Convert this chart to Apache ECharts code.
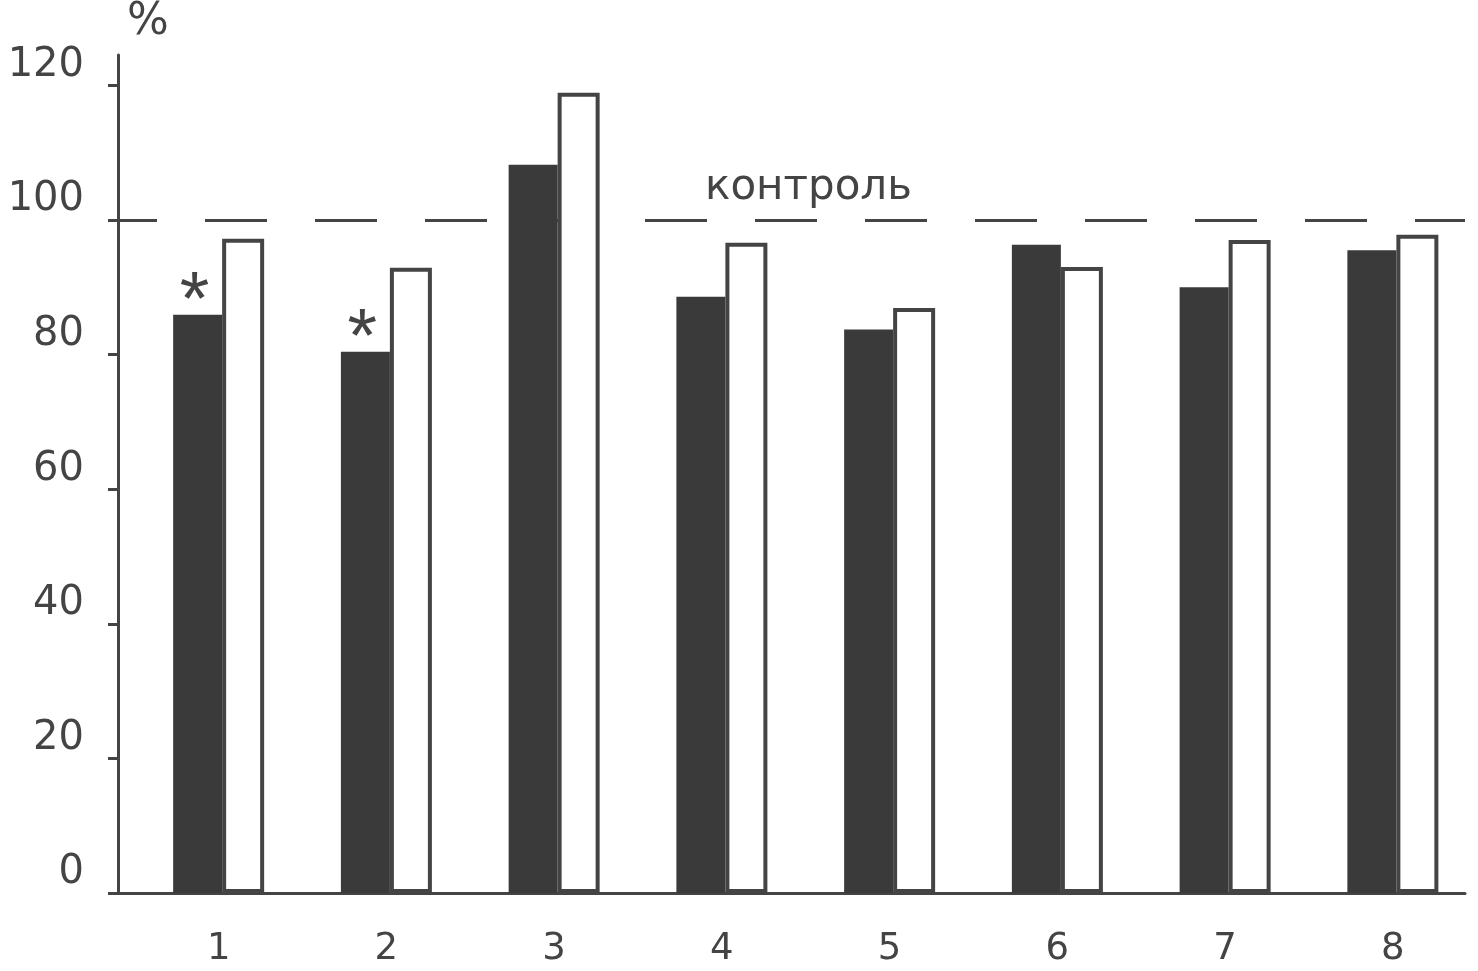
<!DOCTYPE html>
<html>
<head>
<meta charset="utf-8">
<script src="https://cdn.jsdelivr.net/npm/echarts@6/dist/echarts.min.js"></script>
<style>
  html, body { margin: 0; padding: 0; background: #fff; }
  #chart { width: 1478px; height: 971px; }
</style>
</head>
<body>
<div id="chart"></div>
<script>
// ---- data ----
const categories = ['1', '2', '3', '4', '5', '6', '7', '8'];
const darkValues = [85.9, 80.4, 108.2, 88.6, 83.7, 96.3, 90.0, 95.5];
const whiteValues = [97.2, 92.9, 118.9, 96.6, 86.9, 93.0, 97.0, 97.8];
const starred = ['1', '2'];
const yTicks = [0, 20, 40, 60, 80, 100, 120];
const controlValue = 100;
const controlLabel = 'контроль';
const yUnit = '%';

// ---- build ----
const positions = categories.map((c, i) => i + 1);
const ink = '#444';
const font = '"DejaVu Sans", "Liberation Sans", Arial, sans-serif';

const darkData = darkValues.map((v, i) => {
  const item = { value: [positions[i], v] };
  if (starred.includes(categories[i])) item.label = { show: true };
  return item;
});
const whiteData = whiteValues.map((v, i) => [positions[i], v]);

const chart = echarts.init(document.getElementById('chart'));
chart.setOption({
  backgroundColor: '#fff',
  animation: false,
  grid: { left: 118, right: 13, top: 55, bottom: 78, containLabel: false, outerBoundsMode: 'none' },
  xAxis: {
    type: 'value',
    min: 0.40,
    max: 8.43,
    splitLine: { show: false },
    axisTick: { show: false },
    axisLine: { lineStyle: { color: ink, width: 3 } },
    axisLabel: {
      customValues: positions,
      formatter: v => categories[Math.round(v) - 1],
      color: ink,
      fontFamily: font,
      fontSize: 37,
      margin: 38
    }
  },
  yAxis: {
    type: 'value',
    min: 0,
    max: 124.5,
    name: yUnit,
    nameLocation: 'end',
    nameGap: 10,
    nameTextStyle: { color: ink, fontFamily: font, fontSize: 44, padding: [0, 0, 0, 60] },
    splitLine: { show: false },
    axisLine: { lineStyle: { color: ink, width: 3 } },
    axisTick: { customValues: yTicks, length: 10, lineStyle: { color: ink, width: 3 } },
    axisLabel: {
      customValues: yTicks,
      color: ink,
      fontFamily: font,
      fontSize: 40,
      margin: 34,
      verticalAlign: 'bottom',
      lineHeight: 40
    }
  },
  series: [
    {
      type: 'bar',
      data: darkData,
      barWidth: 49,
      barGap: 0,
      itemStyle: { color: '#3a3a3a' },
      label: {
        show: false,
        position: 'top',
        distance: 0,
        offset: [-3, 26],
        formatter: '*',
        color: ink,
        fontFamily: '"Liberation Sans", Arial, sans-serif',
        fontSize: 76
      },
      markLine: {
        silent: true,
        symbol: 'none',
        z: 1,
        data: [{ yAxis: controlValue }],
        lineStyle: { color: ink, width: 3, type: [62, 48], dashOffset: 23 },
        label: {
          show: true,
          position: 'insideMiddleTop',
          formatter: controlLabel,
          color: ink,
          fontFamily: font,
          fontSize: 42,
          distance: 11,
          padding: [0, 0, 0, 34]
        }
      }
    },
    {
      type: 'bar',
      data: whiteData,
      barWidth: 42,
      barGap: 0,
      itemStyle: { color: '#fff', borderColor: ink, borderWidth: 4 }
    }
  ]
});
</script>
</body>
</html>
